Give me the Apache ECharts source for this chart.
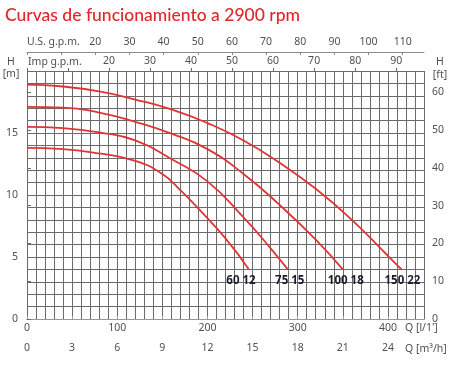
<!DOCTYPE html>
<html><head><meta charset="utf-8">
<script src="https://cdn.jsdelivr.net/npm/echarts@6/dist/echarts.min.js"></script>
<style>html,body{margin:0;padding:0;background:#fff}#c{width:454px;height:366px}</style>
</head><body><div id="c"></div>
<script>
// Data (Q in l/min, H in m)
const curveNames = ['150 22', '100 18', '75 15', '60 12'];
const q150 = [0, 40, 80, 120, 160, 200, 240, 280, 320, 360, 400, 415];
const h150 = [18.9, 18.75, 18.35, 17.7, 16.9, 15.8, 14.4, 12.6, 10.5, 8.0, 5.1, 4.0];
const q100 = [0, 40, 80, 120, 160, 200, 240, 280, 320, 350];
const h100 = [17.1, 17.05, 16.65, 15.9, 14.95, 13.7, 11.7, 9.2, 6.4, 4.0];
const q75 = [0, 40, 80, 120, 160, 200, 240, 270, 289];
const h75 = [15.5, 15.4, 15.05, 14.4, 12.9, 11.1, 8.2, 5.7, 4.0];
const q60 = [0, 40, 80, 120, 150, 170, 190, 220, 246];
const h60 = [13.8, 13.7, 13.35, 12.75, 11.7, 10.4, 8.9, 6.5, 4.0];
const xTicksLpm = [0, 100, 200, 300, 400];
const yTicksM = [0, 5, 10, 15];

const QMAX = 440, HMAX = 20;
const LPM_PER_M3H = 1000 / 60;
const LPM_PER_USG = 3.78541, LPM_PER_IMPG = 4.54609, M_PER_FT = 0.3048;

const gridCol = '#6b6b6b', txtCol = '#505050', curveCol = '#e03434';
const font = '"Noto Sans", sans-serif';

function mk(q, h, name, off) {
  const d = q.map((v, i) => [v, h[i]]);
  const last = d[d.length - 1];
  return {type: 'line', name, data: d, smooth: 0.5, showSymbol: false, symbol: 'none',
    lineStyle: {color: curveCol, width: 1.8}, itemStyle: {color: curveCol}, z: 5, silent: true,
    markPoint: {symbol: 'circle', symbolSize: 0, silent: true,
      data: [{coord: last}],
      label: {show: true, formatter: name, position: 'bottom', distance: 5, offset: [off, 0],
        fontFamily: font, fontWeight: 'bold', fontSize: 11.5, color: '#1c1c30'}}};
}

const chart = echarts.init(document.getElementById('c'), null, {renderer: 'canvas'});
const lblStyle = {fontFamily: font, fontSize: 10.5, color: txtCol};
chart.setOption({
  animation: false,
  grid: {left: 27, right: 30, top: 71, bottom: 47, containLabel: false},
  xAxis: [
    {type: 'value', min: 0, max: QMAX, interval: 10, position: 'bottom',
     axisLine: {show: true, lineStyle: {color: gridCol}}, axisTick: {show: false},
     axisLabel: Object.assign({}, lblStyle, {margin: 4, showMaxLabel: false,
       formatter: v => xTicksLpm.includes(v) ? String(v) : ''}),
     splitLine: {show: true, lineStyle: {color: gridCol, width: 1}}},
    {type: 'value', min: 0, max: QMAX / LPM_PER_M3H, interval: 3, position: 'bottom', offset: 18,
     axisLine: {show: true, lineStyle: {color: '#9a9a9a'}}, axisTick: {show: true, inside: true, length: 3, lineStyle: {color: '#9a9a9a'}},
     axisLabel: Object.assign({}, lblStyle, {margin: 6, showMaxLabel: false, formatter: v => (v % 3 === 0 ? String(v) : '')}),
     splitLine: {show: false}},
    {type: 'value', min: 0, max: QMAX / LPM_PER_IMPG, interval: 10, position: 'top', offset: 0,
     axisLine: {show: false}, axisTick: {show: true, length: 3, lineStyle: {color: gridCol}},
     axisLabel: Object.assign({}, lblStyle, {margin: 4, showMaxLabel: false, formatter: v => (v >= 20 && v % 10 === 0 ? String(v) : '')}),
     splitLine: {show: false}},
    {type: 'value', min: 0, max: QMAX / LPM_PER_USG, interval: 10, position: 'top', offset: 19,
     axisLine: {show: true, lineStyle: {color: '#8a8a8a'}}, axisTick: {show: true, inside: true, length: 3, lineStyle: {color: '#8a8a8a'}},
     axisLabel: Object.assign({}, lblStyle, {margin: 4, showMaxLabel: false, formatter: v => (v >= 20 && v % 10 === 0 ? String(v) : '')}),
     splitLine: {show: false}}
  ],
  yAxis: [
    {type: 'value', min: 0, max: HMAX, interval: 1, position: 'left',
     axisLine: {show: true, lineStyle: {color: gridCol}}, axisTick: {show: false},
     axisLabel: Object.assign({}, lblStyle, {margin: 9, formatter: v => yTicksM.includes(v) ? String(v) : ''}),
     splitLine: {show: true, lineStyle: {color: gridCol, width: 1}}},
    {type: 'value', min: 0, max: HMAX / M_PER_FT, interval: 10, position: 'right',
     axisLine: {show: true, lineStyle: {color: gridCol}}, axisTick: {show: true, length: 4, lineStyle: {color: gridCol}},
     axisLabel: Object.assign({}, lblStyle, {margin: 8, showMaxLabel: false, formatter: v => (v % 10 === 0 ? String(v) : '')}),
     splitLine: {show: false}}
  ],
  series: [
    mk(q150, h150, curveNames[0], 1),
    mk(q100, h100, curveNames[1], 3),
    mk(q75, h75, curveNames[2], 2),
    mk(q60, h60, curveNames[3], -8)
  ],
  graphic: [
    {type: 'text', style: {text: 'Curvas de funcionamiento a 2900 rpm', x: 5, y: 15, textVerticalAlign: 'middle',
      font: '500 17.5px Lato, sans-serif', fill: '#e0262a'}},
    {type: 'text', style: {text: 'U.S. g.p.m.', x: 27, y: 42, textVerticalAlign: 'middle', font: '10.5px "Noto Sans"', fill: txtCol}},
    {type: 'text', style: {text: 'Imp g.p.m.', x: 28, y: 62, textVerticalAlign: 'middle', font: '10.5px "Noto Sans"', fill: txtCol}},
    {type: 'text', style: {text: 'H', x: 11, y: 62, textAlign: 'center', textVerticalAlign: 'middle', font: '10.5px "Noto Sans"', fill: txtCol}},
    {type: 'text', style: {text: '[m]', x: 11, y: 74, textAlign: 'center', textVerticalAlign: 'middle', font: '10.5px "Noto Sans"', fill: txtCol}},
    {type: 'text', style: {text: 'H', x: 440, y: 62, textAlign: 'center', textVerticalAlign: 'middle', font: '10.5px "Noto Sans"', fill: txtCol}},
    {type: 'text', style: {text: '[ft]', x: 440, y: 75, textAlign: 'center', textVerticalAlign: 'middle', font: '10.5px "Noto Sans"', fill: txtCol}},
    {type: 'text', style: {text: "Q [l/1']", x: 405, y: 328, textVerticalAlign: 'middle', font: '10.5px "Noto Sans"', fill: txtCol}},
    {type: 'text', style: {text: 'Q [m³/h]', x: 405, y: 349, textVerticalAlign: 'middle', font: '10.5px "Noto Sans"', fill: txtCol}}
  ]
});
</script></body></html>
